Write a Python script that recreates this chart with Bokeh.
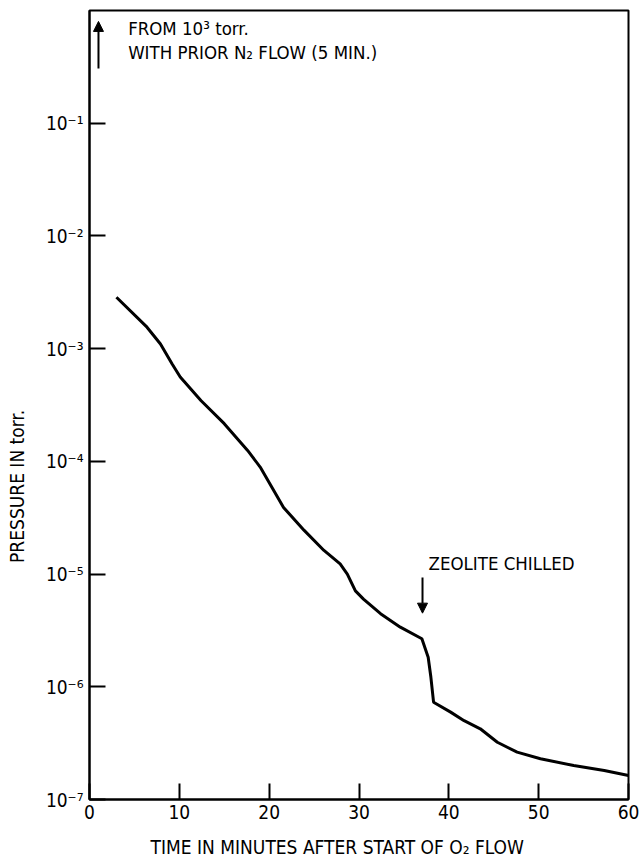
from bokeh.plotting import figure
from bokeh.models import Label, Arrow, NormalHead
from bokeh.embed import file_html
from bokeh.resources import INLINE

# data
time_min = [3.0, 6.4, 7.9, 9.2, 10.1, 12.4, 15.0, 17.6, 19.0, 20.3, 21.6, 23.9, 26.1, 27.9,
            28.7, 29.6, 30.5, 32.4, 34.6, 37.0, 37.7, 38.0, 38.3, 40.2, 41.7, 43.5, 45.4,
            47.6, 50.2, 53.9, 57.3, 60.0]
pressure_torr = [2.86e-3, 1.55e-3, 1.10e-3, 7.3e-4, 5.6e-4, 3.47e-4, 2.16e-4, 1.25e-4, 8.9e-5,
                 5.9e-5, 3.9e-5, 2.44e-5, 1.62e-5, 1.23e-5, 1.0e-5, 7.1e-6, 6.0e-6, 4.45e-6,
                 3.38e-6, 2.67e-6, 1.83e-6, 1.22e-6, 7.3e-7, 5.96e-7, 5.0e-7, 4.24e-7, 3.22e-7,
                 2.63e-7, 2.30e-7, 2.0e-7, 1.81e-7, 1.63e-7]

x_ticks = [0, 10, 20, 30, 40, 50, 60]
y_ticks = [1e-7, 1e-6, 1e-5, 1e-4, 1e-3, 1e-2, 1e-1]
y_tick_labels = ["10\u207b\u2077", "10\u207b\u2076", "10\u207b\u2075", "10\u207b\u2074",
                 "10\u207b\u00b3", "10\u207b\u00b2", "10\u207b\u00b9"]

FONT = "DejaVu Sans Condensed, Roboto, sans-serif"
NB = "\u00a0"

p = figure(width=640, height=860, y_axis_type="log", x_range=(0, 60), y_range=(1e-7, 1),
           output_backend="svg", toolbar_location=None,
           min_border_left=89, min_border_right=12, min_border_top=10, min_border_bottom=61)
p.grid.visible = False
p.outline_line_color = "black"
p.outline_line_width = 2
p.background_fill_color = "white"
p.border_fill_color = "white"

p.xaxis.ticker = x_ticks
p.yaxis.ticker = y_ticks
p.yaxis.major_label_overrides = {t: l for t, l in zip(y_ticks, y_tick_labels)}
for ax in (p.xaxis, p.yaxis):
    ax.major_tick_in = 16
    ax.major_tick_out = 0
    ax.minor_tick_line_color = None
    ax.axis_line_width = 2
    ax.major_tick_line_width = 2
    ax.axis_line_color = "black"
    ax.major_tick_line_color = "black"
    ax.major_label_text_font = FONT
    ax.major_label_text_font_size = "19px"
    ax.major_label_text_color = "black"
    ax.axis_label_text_font = FONT
    ax.axis_label_text_font_size = "19px"
    ax.axis_label_text_font_style = "normal"
    ax.axis_label_text_color = "black"
p.xaxis.major_label_standoff = 5
p.yaxis.major_label_standoff = 6

p.xaxis.axis_label = "TIME IN MINUTES AFTER START OF O\u2082 FLOW" + NB * 8
p.xaxis.axis_label_standoff = 14
p.yaxis.axis_label = "PRESSURE IN torr." + NB * 30
p.yaxis.axis_label_standoff = 15

p.line(time_min, pressure_torr, line_color="black", line_width=3)

# annotations
p.add_layout(Label(x=4.3, y=0.69, text="FROM  10\u00b3 torr.", text_font=FONT,
                   text_font_size="18.5px", text_baseline="middle", text_color="black"))
p.add_layout(Label(x=4.3, y=0.425, text="WITH  PRIOR  N\u2082  FLOW (5 MIN.)", text_font=FONT,
                   text_font_size="18.5px", text_baseline="middle", text_color="black"))
p.add_layout(Arrow(end=NormalHead(size=10, fill_color="black", line_color="black"),
                   x_start=1.0, y_start=0.306, x_end=1.0, y_end=0.80,
                   line_color="black", line_width=2))

p.add_layout(Label(x=37.74, y=1.24e-5, text="ZEOLITE  CHILLED", text_font=FONT,
                   text_font_size="18.5px", text_baseline="middle", text_color="black"))
p.add_layout(Arrow(end=NormalHead(size=10, fill_color="black", line_color="black"),
                   x_start=37.07, y_start=9.3e-6, x_end=37.07, y_end=4.5e-6,
                   line_color="black", line_width=2))

open("out.html", "w").write(file_html(p, INLINE))
